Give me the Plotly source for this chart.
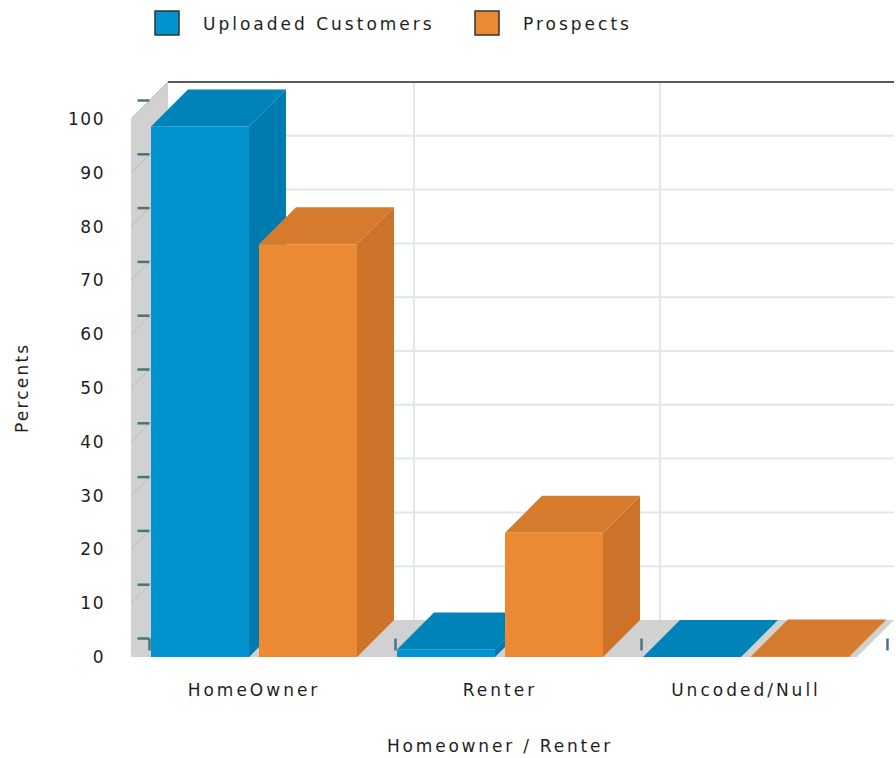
import plotly.graph_objects as go

# ---- data -------------------------------------------------------------
categories = ["HomeOwner", "Renter", "Uncoded/Null"]
uploaded_customers = [98.6, 1.4, 0.0]
prospects = [76.7, 23.1, 0.1]
series_names = ["Uploaded Customers", "Prospects"]
y_tick_values = [0, 10, 20, 30, 40, 50, 60, 70, 80, 90, 100]
x_title = "Homeowner / Renter"
y_title = "Percents"

# ---- geometry (pixels) ------------------------------------------------
W, H = 896, 758
PLOT_L, PLOT_R, PLOT_T, PLOT_B = 131, 894, 78, 657
PX_PER_CAT = 246.0          # width of one category band
PX_PER_PCT = 5.38           # pixels per percent on the value axis
DEPTH_PX = 37.0             # 3D extrusion offset (right and up)

X_LO = -0.5
X_HI = X_LO + (PLOT_R - PLOT_L) / PX_PER_CAT
Y_HI = (PLOT_B - PLOT_T) / PX_PER_PCT
DX = DEPTH_PX / PX_PER_CAT
DY = DEPTH_PX / PX_PER_PCT
FLOOR_END = X_LO + 726 / PX_PER_CAT
Y_MAX = 100

BAR_W = 98 / PX_PER_CAT
BAR_OFF = 54 / PX_PER_CAT

FONT = "DejaVu Sans"
FONT_SIZE = 17
TXT = "#1e1e1e"

palette = [
    dict(front="#0093d0", top="#0083b9", side="#007bb0"),
    dict(front="#ec8a34", top="#d67b2d", side="#cc7229"),
]
GRID = "#e1e6ea"
WALL = "#d1d1d1"
TICKMARK = "#4a7283"


def spaced(text, gap):
    """Wrap text in a tspan with widened letter spacing."""
    return f'<span style="letter-spacing:{gap}px">{text}</span>'


shapes = []


def line(x0, y0, x1, y1, color, width):
    shapes.append(dict(type="line", x0=x0, y0=y0, x1=x1, y1=y1,
                       xref="x", yref="y",
                       line=dict(color=color, width=width), layer="below"))


def poly(pts, fill):
    path = "M " + " L ".join(f"{x},{y}" for x, y in pts) + " Z"
    shapes.append(dict(type="path", path=path, xref="x", yref="y",
                       fillcolor=fill, line=dict(width=0), layer="below"))


# back-plane grid
for v in y_tick_values[1:-1]:
    line(X_LO + DX, v + DY, X_HI, v + DY, GRID, 2)
for b in [0.5, 1.5]:
    line(b + DX, DY, b + DX, Y_MAX + DY, GRID, 2)
# top edge of the back plane
line(X_LO + DX, Y_MAX + DY, X_HI, Y_MAX + DY, "#5a5a5a", 2.2)

# left wall and floor
poly([(X_LO, 0), (X_LO, Y_MAX), (X_LO + DX, Y_MAX + DY), (X_LO + DX, DY)], WALL)
poly([(X_LO, 0), (FLOOR_END, 0), (FLOOR_END + DX, DY), (X_LO + DX, DY)], WALL)

# grid lines running across the wall
for v in y_tick_values[1:]:
    line(X_LO, v, X_LO + DX, v + DY, "#bcbcbc", 1)

# tick marks at mid-depth
dash_x = 12 / PX_PER_CAT
dash_y = 12 / PX_PER_PCT
for v in y_tick_values:
    line(X_LO + DX / 2 - dash_x, v + DY / 2, X_LO + DX / 2, v + DY / 2, TICKMARK, 2.5)
for b in [-0.5, 0.5, 1.5, 2.5]:
    line(b + DX / 2, DY / 2, b + DX / 2, DY / 2 - dash_y, TICKMARK, 2.5)

# top and side faces of each bar
series = [uploaded_customers, prospects]
offsets = [-BAR_OFF, BAR_OFF]
for s, vals in enumerate(series):
    col = palette[s]
    for i, v in enumerate(vals):
        x0 = i + offsets[s] - BAR_W / 2
        x1 = i + offsets[s] + BAR_W / 2
        poly([(x1, 0), (x1, v), (x1 + DX, v + DY), (x1 + DX, DY)], col["side"])
        poly([(x0, v), (x1, v), (x1 + DX, v + DY), (x0 + DX, v + DY)], col["top"])

fig = go.Figure()
for s, vals in enumerate(series):
    fig.add_trace(go.Bar(
        x=[i + offsets[s] for i in range(len(categories))],
        y=vals,
        width=BAR_W,
        name=series_names[s],
        marker=dict(color=palette[s]["front"], line=dict(width=0)),
        showlegend=False,
        hovertemplate="%{y}<extra>" + series_names[s] + "</extra>",
    ))

pw = PLOT_R - PLOT_L
ph = PLOT_B - PLOT_T


def px(x):
    return (x - PLOT_L) / pw


def py(y):
    return (PLOT_B - y) / ph


text_font = dict(family=FONT, size=FONT_SIZE, color=TXT)
annotations = []
# legend
legend_items = [(155, 201), (475, 521)]
for s, (bx, tx) in enumerate(legend_items):
    shapes.append(dict(type="rect", xref="paper", yref="paper",
                       x0=px(bx), x1=px(bx + 24), y0=py(35), y1=py(11),
                       fillcolor=palette[s]["front"],
                       line=dict(color="#333333", width=1.5), layer="above"))
    annotations.append(dict(x=px(tx), y=py(24), xref="paper", yref="paper",
                            text=spaced(series_names[s], 3), showarrow=False,
                            xanchor="left", yanchor="middle", font=text_font))

annotations.append(dict(x=px(22), y=py(388), xref="paper", yref="paper",
                        text=spaced(y_title, 2.2), textangle=-90, showarrow=False,
                        xanchor="center", yanchor="middle", font=text_font))
annotations.append(dict(x=px(500), y=py(746), xref="paper", yref="paper",
                        text=spaced(x_title, 2.8), showarrow=False,
                        xanchor="center", yanchor="middle", font=text_font))

fig.update_layout(
    width=W, height=H,
    margin=dict(l=PLOT_L, r=W - PLOT_R, t=PLOT_T, b=H - PLOT_B, pad=0),
    paper_bgcolor="white", plot_bgcolor="white",
    barmode="overlay",
    shapes=shapes,
    annotations=annotations,
    showlegend=False,
    font=text_font,
    xaxis=dict(range=[X_LO, X_HI], tickvals=list(range(len(categories))),
               ticktext=[spaced(c, 3) for c in categories],
               showgrid=False, zeroline=False,
               showline=False, ticks="", ticklabelstandoff=21,
               tickfont=text_font, fixedrange=True),
    yaxis=dict(range=[0, Y_HI], tickvals=y_tick_values,
               ticktext=[spaced(str(v), 1.5) for v in y_tick_values],
               showgrid=False, zeroline=False, showline=False, ticks="",
               ticklabelstandoff=25,
               tickfont=text_font, fixedrange=True),
)

fig.write_html("out.html")
